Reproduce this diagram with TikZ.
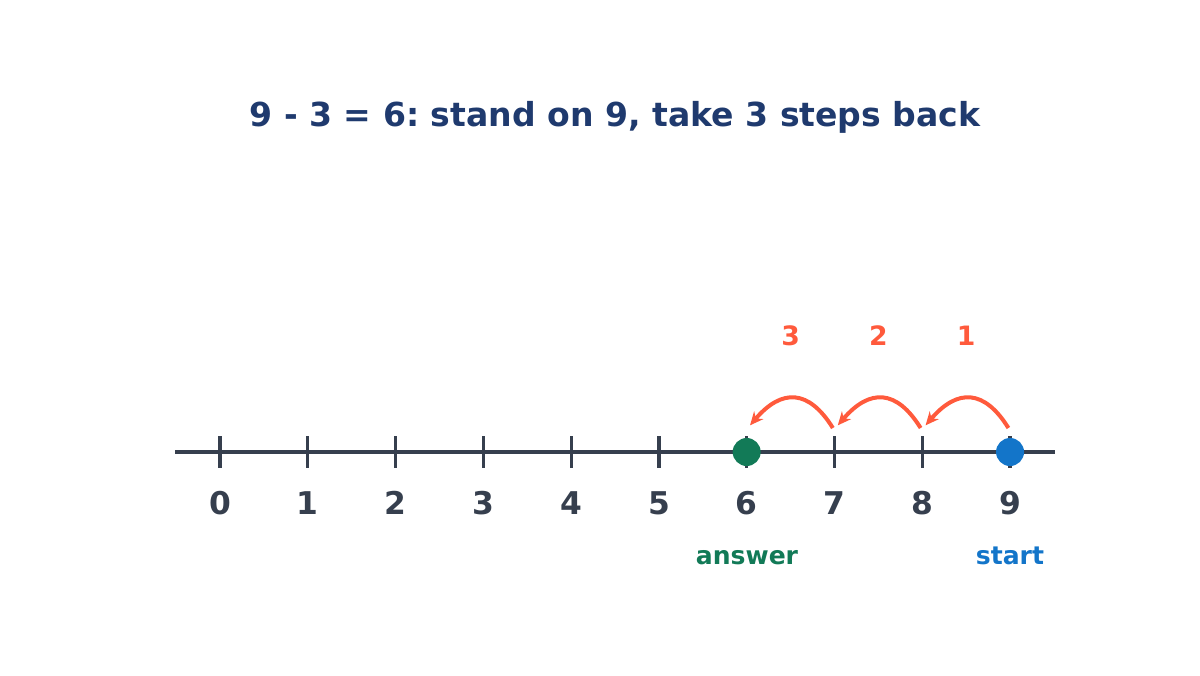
\documentclass[tikz,border=0pt]{standalone}
\usepackage{fontspec}
\setmainfont{DejaVu Sans}
\usetikzlibrary{arrows.meta}
\frenchspacing
\definecolor{titlecol}{HTML}{1F3A6E}
\definecolor{axiscol}{HTML}{363F4E}
\definecolor{jumpcol}{HTML}{FF5A3C}
\definecolor{anscol}{HTML}{127A57}
\definecolor{startcol}{HTML}{1375C9}
\tikzset{
  axis/.style={draw=axiscol, line width=3pt},
  tickline/.style={draw=axiscol, line width=2.4pt},
  numlab/.style={text=axiscol, font=\bfseries\fontsize{23.5}{27}\selectfont},
  jump/.style={draw=jumpcol, line width=3pt, -{Stealth[length=10pt,width=9pt]}},
  jumplab/.style={text=jumpcol, font=\bfseries\fontsize{20}{24}\selectfont},
  dot/.style={circle, inner sep=0pt, minimum size=21pt},
  sublab/.style={font=\bfseries\fontsize{18.8}{22}\selectfont, anchor=base},
}
\begin{document}
\begin{tikzpicture}[x=0.75pt,y=-0.75pt]
\useasboundingbox (0,0) rectangle (1200,675);
\node[text=titlecol, font=\bfseries\fontsize{24.8}{28}\selectfont] (title) at (615,117) {9 - 3 = 6: stand on 9, take 3 steps back};
\coordinate (L) at (175,452);
\coordinate (R) at (1055,452);
\draw[axis] (L) -- (R);
\foreach \i in {0,...,9} {
  \coordinate (t\i) at ({220+87.78*\i},452);
  \draw[tickline] ([yshift=12pt]t\i) -- ([yshift=-12pt]t\i);
  \node[numlab] (n\i) at ({220+87.78*\i},503) {\i};
}
\node[dot, fill=anscol] (ans) at (t6) {};
\node[dot, fill=startcol] (st) at (t9) {};
\node[sublab, text=anscol] (anslab) at (747,564) {answer};
\node[sublab, text=startcol] (stlab) at (1010,564) {start};
% jumps
\foreach \a/\b/\k in {9/8/1,8/7/2,7/6/3} {
  \coordinate (s\k) at ([xshift=-1.2pt,yshift=18pt]t\a);
  \coordinate (e\k) at ([xshift=2.5pt,yshift=20pt]t\b);
  \draw[jump] (s\k) .. controls ([xshift=-18pt,yshift=29pt]s\k) and ([xshift=24pt,yshift=28pt]e\k) .. (e\k);
  \node[jumplab] (j\k) at ({220+87.78*(\a-0.5)},336) {\k};
}
\end{tikzpicture}
\end{document}
